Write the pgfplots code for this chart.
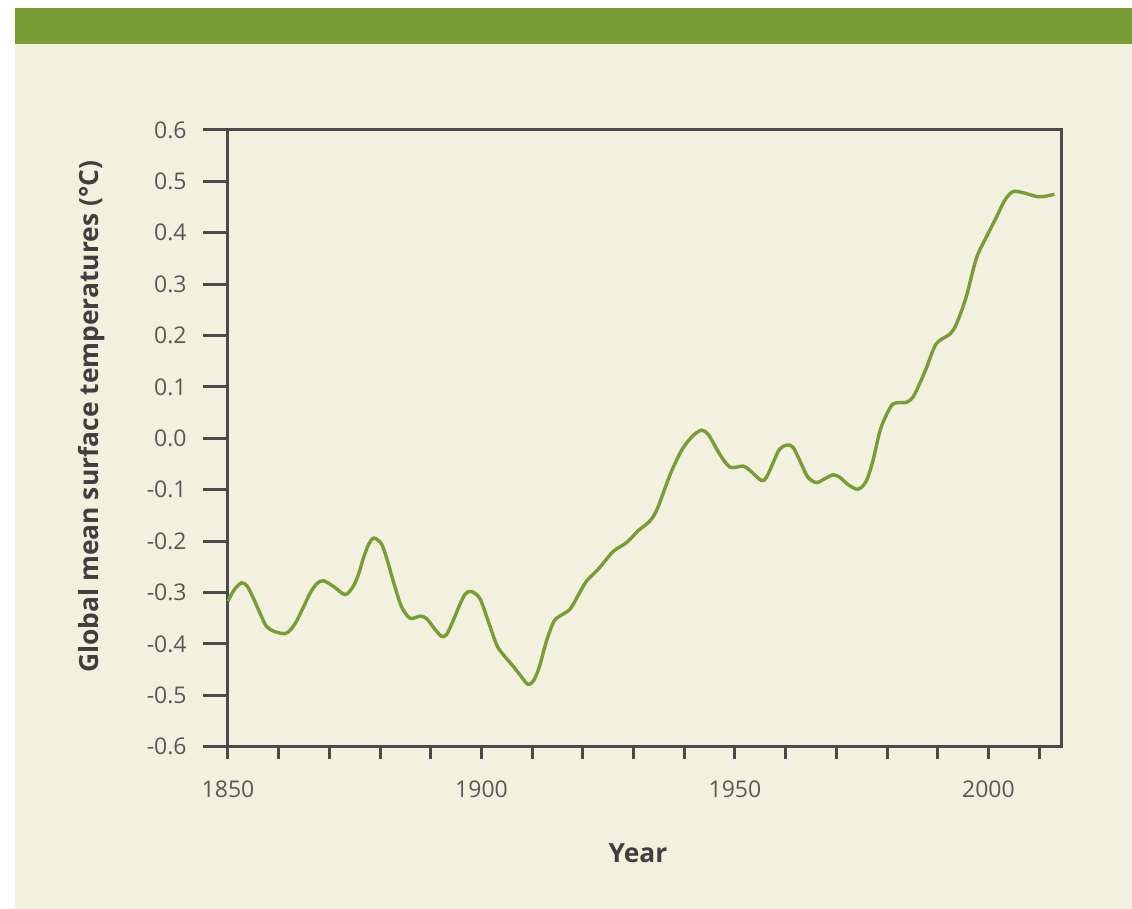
\documentclass[border=0pt]{standalone}
\usepackage{fontspec}
\setmainfont{Open Sans}
\usepackage{pgfplots}
\pgfplotsset{compat=1.18}

\definecolor{bargreen}{HTML}{789B34}
\definecolor{panel}{HTML}{F2F1DF}
\definecolor{linegreen}{HTML}{789D34}
\definecolor{axisgray}{HTML}{4A4A4A}
\definecolor{textgray}{HTML}{58585A}
\definecolor{labelgray}{HTML}{3F3F3F}

\pgfplotstableread{
year temp
1850.0 -0.317
1851.2 -0.295
1852.7 -0.281
1853.8 -0.288
1855.0 -0.311
1856.4 -0.342
1857.6 -0.366
1859.2 -0.376
1861.2 -0.380
1862.3 -0.373
1863.5 -0.356
1864.9 -0.328
1866.2 -0.301
1867.5 -0.283
1868.8 -0.277
1870.8 -0.288
1873.1 -0.304
1874.7 -0.288
1875.8 -0.263
1876.7 -0.233
1877.8 -0.205
1878.8 -0.194
1880.3 -0.206
1881.5 -0.240
1882.6 -0.278
1884.2 -0.327
1885.9 -0.350
1887.9 -0.346
1889.2 -0.351
1890.7 -0.370
1892.1 -0.385
1893.1 -0.382
1894.4 -0.355
1895.7 -0.324
1896.8 -0.303
1898.0 -0.298
1899.7 -0.312
1901.3 -0.355
1903.0 -0.402
1904.3 -0.421
1906.3 -0.444
1907.8 -0.463
1909.2 -0.479
1910.3 -0.471
1911.4 -0.445
1912.8 -0.395
1914.0 -0.362
1914.8 -0.350
1917.4 -0.333
1919.1 -0.305
1920.7 -0.278
1923.0 -0.255
1926.0 -0.220
1928.6 -0.203
1930.9 -0.180
1933.2 -0.161
1934.5 -0.141
1935.8 -0.108
1937.1 -0.073
1938.5 -0.042
1939.8 -0.018
1941.7  0.005
1943.4  0.016
1944.7  0.008
1945.9 -0.012
1947.0 -0.031
1949.0 -0.056
1951.6 -0.054
1952.9 -0.062
1955.2 -0.082
1956.2 -0.076
1957.5 -0.048
1958.8 -0.021
1960.3 -0.013
1961.5 -0.018
1963.0 -0.048
1964.4 -0.076
1966.1 -0.086
1967.8 -0.078
1969.4 -0.071
1970.7 -0.076
1972.3 -0.090
1974.3 -0.099
1975.9 -0.083
1977.2 -0.044
1978.5  0.011
1979.6  0.040
1981.2  0.067
1983.8  0.070
1985.1  0.080
1986.5  0.108
1987.8  0.138
1989.7  0.184
1992.4  0.203
1993.7  0.223
1995.6  0.275
1997.6  0.350
1999.6  0.392
2001.6  0.431
2003.2  0.463
2004.8  0.480
2006.8  0.478
2009.8  0.470
2011.7  0.472
2013.0  0.475
}\tempdata

\begin{document}
\begin{tikzpicture}
% page frame and panels (1 px of the reference = 0.5pt)
\fill[white] (-114pt,-81.15pt) rectangle (452pt,373.35pt);
\useasboundingbox (-114pt,-81.15pt) rectangle (452pt,373.35pt);
\fill[panel] (-106.5pt,-81.15pt) rectangle (452pt,351.35pt);
\fill[bargreen] (-106.5pt,351.35pt) rectangle (452pt,369.35pt);

\begin{axis}[
  at={(0pt,0pt)}, anchor=south west,
  scale only axis,
  width=417pt, height=308.35pt,
  xmin=1850, xmax=2014.5,
  ymin=-0.6, ymax=0.6,
  separate axis lines,
  axis line style={draw=axisgray, line width=1.5pt, line cap=rect},
  xtick={1850,1900,1950,2000},
  extra x ticks={1860,1870,1880,1890,1910,1920,1930,1940,1960,1970,1980,1990,2010},
  extra x tick labels={},
  ytick={-0.6,-0.5,...,0.61},
  yticklabels={-0.6,-0.5,-0.4,-0.3,-0.2,-0.1,0.0,0.1,0.2,0.3,0.4,0.5,0.6},
  xtick pos=bottom, ytick pos=left,
  tick align=outside,
  major tick length=12.5pt,
  every tick/.style={draw=axisgray, line width=1.5pt},
  xtick style={/pgfplots/major tick length=6pt, draw=axisgray, line width=1.5pt},
  ytick style={draw=axisgray, line width=1.5pt},
  extra x tick style={/pgfplots/major tick length=6pt,
    tick style={draw=axisgray, line width=1.5pt}},
  x tick label style={font=\fontsize{11.5}{13}\selectfont, color=textgray,
    /pgf/number format/1000 sep={}, inner sep=0pt, yshift=-4.5pt},
  y tick label style={font=\fontsize{11.5}{13}\selectfont, color=textgray,
    inner sep=0pt, xshift=-8pt},
  xlabel={Year},
  ylabel={Global mean surface temperatures (°C)},
  xlabel style={font=\fontsize{13.2}{16}\selectfont\bfseries, color=labelgray,
    at={(axis description cs:0.4916,0)}, anchor=center, yshift=-53.2pt},
  ylabel style={font=\fontsize{13.2}{16}\selectfont\bfseries, color=labelgray,
    at={(axis description cs:-0.1635,0.535)}, anchor=center},
  /pgf/number format/assume math mode=true,
  clip=false,
]
\addplot[linegreen, line width=1.7pt, smooth, tension=0.5, mark=none] table[x=year, y=temp] {\tempdata};
\end{axis}
\end{tikzpicture}
\end{document}
